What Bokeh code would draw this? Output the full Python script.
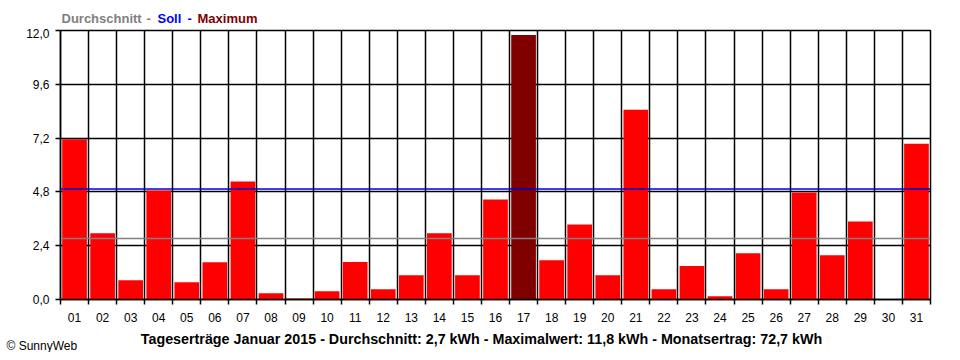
from bokeh.plotting import figure
from bokeh.models import FixedTicker, Span, ColumnDataSource, Range1d
from bokeh.layouts import column
from bokeh.core.properties import value
from bokeh.embed import file_html
from bokeh.resources import INLINE

# ---------------- data ----------------
days = ["01", "02", "03", "04", "05", "06", "07", "08", "09", "10",
        "11", "12", "13", "14", "15", "16", "17", "18", "19", "20",
        "21", "22", "23", "24", "25", "26", "27", "28", "29", "30", "31"]
values = [7.15, 2.95, 0.86, 4.86, 0.77, 1.66, 5.26, 0.28, 0.05, 0.37,
          1.67, 0.46, 1.08, 2.96, 1.08, 4.46, 11.8, 1.75, 3.35, 1.08,
          8.46, 0.46, 1.49, 0.15, 2.06, 0.46, 4.77, 1.97, 3.48, 0.0, 6.95]
average = 2.72   # Durchschnitt
target = 4.93    # Soll
y_ticks = [0.0, 2.4, 4.8, 7.2, 9.6, 12.0]
y_labels = ["0,0", "2,4", "4,8", "7,2", "9,6", "12,0"]
legend_words = ["Durchschnitt", "-", "Soll", "-", "Maximum"]
title_text = ("Tageserträge Januar 2015 - Durchschnitt: 2,7 kWh - "
              "Maximalwert: 11,8 kWh - Monatsertrag: 72,7 kWh")
credit_text = "© SunnyWeb"

FONT = "Liberation Sans"
RED = "#FF0000"
DARK = "#800000"
GREY = "#808080"
BLUE = "#0000D0"
W = 952


def text_strip(height):
    f = figure(width=W, height=height, x_range=Range1d(0, W), y_range=Range1d(height, 0),
               output_backend="svg", toolbar_location=None,
               x_axis_type=None, y_axis_type=None, min_border=0)
    f.frame_align = False
    f.outline_line_color = None
    f.grid.visible = False
    f.background_fill_color = "white"
    f.border_fill_color = "white"
    return f


# ---------------- header (legend line) ----------------
HEAD_H = 28
head = text_strip(HEAD_H)
head.text(x=[61, 146, 157, 187, 197], y=[18] * 5, text=legend_words,
          text_color=[GREY, GREY, "#0000FF", "#0000FF", DARK],
          text_font=value(FONT), text_font_size=value("13px"), text_font_style="bold",
          text_align="left", text_baseline="middle")

# ---------------- main chart ----------------
x = list(range(1, len(days) + 1))
maxv = max(values)
colors = [DARK if v == maxv else RED for v in values]
src = ColumnDataSource(dict(x=x, top=values, color=colors))

MAIN_BOTTOM = 24
p = figure(width=W, height=2 + 270 + MAIN_BOTTOM, x_range=(0.5, len(days) + 0.5), y_range=(0, 12),
           output_backend="svg", toolbar_location=None,
           min_border_left=60, min_border_right=22, min_border_top=2,
           min_border_bottom=MAIN_BOTTOM)
p.background_fill_color = "white"
p.border_fill_color = "white"
p.outline_line_color = "black"
p.outline_line_width = 1.5

p.vbar(x="x", top="top", width=0.88, fill_color="color", line_color=None, source=src)

boundaries = [i + 0.5 for i in range(0, len(days) + 1)]

# x axis: labels at day centres, tick marks at day boundaries
p.xaxis.ticker = FixedTicker(ticks=x, minor_ticks=boundaries)
p.xaxis.major_label_overrides = {xi: d for xi, d in zip(x, days)}
p.xaxis.major_tick_out = 0
p.xaxis.major_tick_in = 0
p.xaxis.minor_tick_out = 5
p.xaxis.minor_tick_in = 0
p.xaxis.minor_tick_line_color = "black"
p.xaxis.minor_tick_line_width = 1.5
p.xaxis.axis_line_color = "black"
p.xaxis.axis_line_width = 1.5
p.xaxis.major_label_text_font = FONT
p.xaxis.major_label_text_font_size = "12px"
p.xaxis.major_label_text_color = "black"
p.xaxis.major_label_standoff = 8

# y axis
p.yaxis.ticker = FixedTicker(ticks=y_ticks, minor_ticks=[])
p.yaxis.major_label_overrides = {t: l for t, l in zip(y_ticks, y_labels)}
p.yaxis.major_tick_out = 5
p.yaxis.major_tick_in = 0
p.yaxis.major_tick_line_color = "black"
p.yaxis.major_tick_line_width = 1.5
p.yaxis.axis_line_color = "black"
p.yaxis.axis_line_width = 1.5
p.yaxis.major_label_text_font = FONT
p.yaxis.major_label_text_font_size = "12px"
p.yaxis.major_label_text_color = "black"
p.yaxis.major_label_standoff = 6

# grids
p.xgrid.ticker = FixedTicker(ticks=boundaries)
p.xgrid.grid_line_color = "black"
p.xgrid.grid_line_width = 1.5
p.ygrid.grid_line_color = "black"
p.ygrid.grid_line_width = 1.5

# reference lines
p.add_layout(Span(location=average, dimension="width", line_color=GREY, line_width=1.5))
p.add_layout(Span(location=target, dimension="width", line_color=BLUE, line_width=1.5))

# ---------------- footer (caption + credit) ----------------
FOOT_H = 28
foot = text_strip(FOOT_H)
foot.text(x=[481], y=[14], text=[title_text], text_color="black",
          text_font=value(FONT), text_font_size=value("14.3px"), text_font_style="bold",
          text_align="center", text_baseline="middle")
foot.text(x=[6], y=[21], text=[credit_text], text_color="black",
          text_font=value(FONT), text_font_size=value("12px"),
          text_align="left", text_baseline="middle")

layout = column(head, p, foot, spacing=0)
open("out.html", "w").write(file_html(layout, INLINE))
